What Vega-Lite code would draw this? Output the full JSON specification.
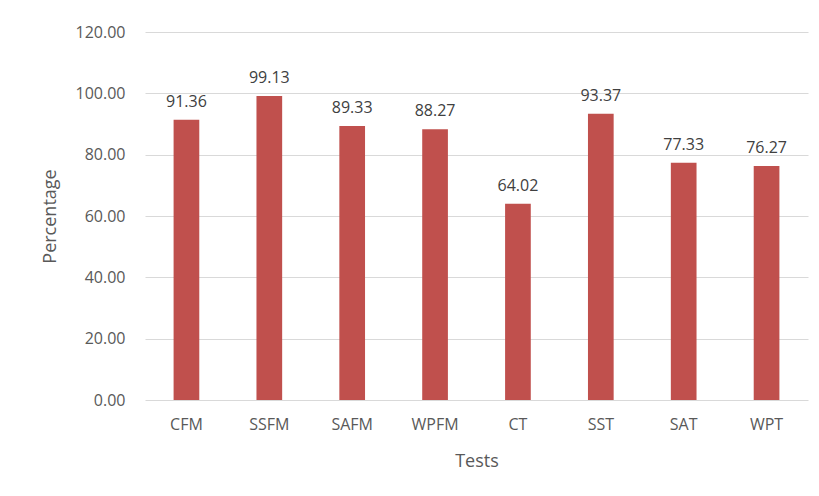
{
  "$schema": "https://vega.github.io/schema/vega-lite/v6.json",
  "autosize": "none",
  "width": 663,
  "height": 368,
  "padding": {"left": 145, "top": 32, "right": 11, "bottom": 96},
  "background": "white",
  "config": {
    "font": "Open Sans",
    "view": {"stroke": null},
    "axis": {"labelFont": "Open Sans", "titleFont": "Open Sans", "labelColor": "#595959", "titleColor": "#595959", "titleFontWeight": "normal"}
  },
  "data": {"values": [
    {"test": "CFM", "pct": 91.36},
    {"test": "SSFM", "pct": 99.13},
    {"test": "SAFM", "pct": 89.33},
    {"test": "WPFM", "pct": 88.27},
    {"test": "CT", "pct": 64.02},
    {"test": "SST", "pct": 93.37},
    {"test": "SAT", "pct": 77.33},
    {"test": "WPT", "pct": 76.27}
  ]},
  "encoding": {
    "x": {"field": "test", "type": "nominal", "sort": null,
      "scale": {"paddingInner": 0.69, "paddingOuter": 0.345},
      "axis": {"title": "Tests", "labelAngle": 0, "labelFontSize": 16, "labelPadding": 16, "titleFontSize": 18, "titlePadding": 20, "domain": false, "ticks": false}},
    "y": {"field": "pct", "type": "quantitative",
      "scale": {"domain": [0, 120]},
      "axis": {"title": "Percentage", "values": [0, 20, 40, 60, 80, 100, 120], "format": ".2f", "labelFontSize": 16, "labelPadding": 20, "titleFontSize": 18, "titlePadding": 16, "domain": false, "ticks": false, "gridColor": "#D9D9D9", "gridWidth": 1}}
  },
  "layer": [
    {"mark": {"type": "bar", "color": "#C0504D"}},
    {"mark": {"type": "text", "baseline": "bottom", "dy": -10, "fontSize": 16, "color": "#404040"},
      "encoding": {"text": {"field": "pct", "type": "quantitative", "format": ".2f"}}}
  ]
}
